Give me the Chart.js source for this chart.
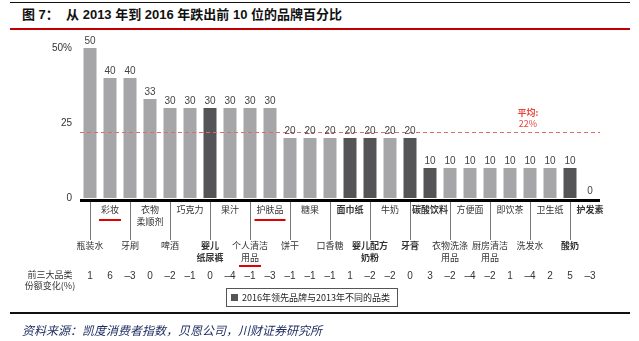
<!DOCTYPE html>
<html>
<head>
<meta charset="utf-8">
<script src="https://cdn.jsdelivr.net/npm/chart.js@4.4.1/dist/chart.umd.min.js"></script>
<style>
  html, body { margin: 0; padding: 0; background: #fff; }
  #page { position: relative; width: 639px; height: 341px; overflow: hidden;
          font-family: "Liberation Sans", "Noto Sans CJK SC", sans-serif; }
  #cv { position: absolute; left: 0; top: 0; }
  .rule { position: absolute; left: 10px; width: 620px; }
  #title { position: absolute; left: 22px; top: 7px; font-size: 13px; font-weight: bold;
           color: #111; white-space: pre; line-height: 16px; }
  #legend { position: absolute; left: 226px; top: 288px; width: 170px; height: 17px;
            border: 1px solid #555; font-size: 9px; color: #222; line-height: 17px;
            font-family: "Noto Sans CJK SC", sans-serif; }
  #legend i { position: absolute; left: 4px; top: 5px; width: 7px; height: 7px; background: #555557; }
  #legend span { position: absolute; left: 15px; top: 0; white-space: nowrap; }
  #source { position: absolute; left: 22px; top: 321px; font-size: 12px; font-style: italic;
            color: #1c2a5e; font-family: "Noto Sans CJK SC", sans-serif; white-space: nowrap; }
</style>
</head>
<body>
<div id="page">
  <div class="rule" style="top:2px;height:1px;background:#111;"></div>
  <div id="title">图 7：  从 2013 年到 2016 年跌出前 10 位的品牌百分比</div>
  <div class="rule" style="top:28px;height:2px;background:#c00000;"></div>
  <canvas id="cv" width="639" height="341"></canvas>
  <div id="legend"><i></i><span>2016年领先品牌与2013年不同的品类</span></div>
  <div class="rule" style="top:312px;height:2px;background:#111;"></div>
  <div id="source">资料来源：凯度消费者指数，贝恩公司，川财证券研究所</div>
</div>
<script>
"use strict";

// categories, two label rows alternate (even index = lower row)
const categories = [
  ["瓶装水"], ["彩妆"], ["牙刷"], ["衣物", "柔顺剂"], ["啤酒"], ["巧克力"],
  ["婴儿", "纸尿裤"], ["果汁"], ["个人清洁", "用品"], ["护肤品"], ["饼干"], ["糖果"],
  ["口香糖"], ["面巾纸"], ["婴儿配方", "奶粉"], ["牛奶"], ["牙膏"], ["碳酸饮料"],
  ["衣物洗涤", "用品"], ["方便面"], ["厨房清洁", "用品"], ["即饮茶"], ["洗发水"],
  ["卫生纸"], ["酸奶"], ["护发素"]
];
const dropShare  = [50, 40, 40, 33, 30, 30, 30, 30, 30, 30, 20, 20, 20, 20, 20, 20, 20, 10, 10, 10, 10, 10, 10, 10, 10, 0];
const newLeader  = [0, 0, 0, 0, 0, 0, 1, 0, 0, 0, 0, 0, 0, 1, 1, 0, 1, 1, 0, 0, 0, 0, 0, 0, 1, 1];
const top3Change = [1, 6, -3, 0, -2, -1, 0, -4, -1, -3, -1, -1, -1, 1, -2, -2, 0, 3, -2, -4, -2, 1, -4, 2, 5, -3];
const averageShare = 22;
const yTicks = [0, 25, 50];
const underlined = [1, 9, 8];   // 彩妆, 护肤品, 个人清洁用品

const LIGHT = "#a6a6a8", DARK = "#555557";
const CJK = '"Noto Sans CJK SC", sans-serif';
const LINE_H = 12;

function tickLines(i)
 {
   return i % 2 === 0 ? ["", "", ""].concat(categories[i]) : categories[i];
 }

const decorPlugin = {
  id: "decor",
  afterDatasetsDraw(chart) {
    const ctx = chart.ctx, area = chart.chartArea;
    const xs = chart.scales.x, ys = chart.scales.y;
    const meta = chart.getDatasetMeta(0);
    ctx.save();

    // average line
    const ya = Math.round(ys.getPixelForValue(averageShare)) + 0.5;
    ctx.strokeStyle = "#e06a6a";
    ctx.lineWidth = 1;
    ctx.setLineDash([4, 3]);
    ctx.beginPath(); ctx.moveTo(area.left, ya); ctx.lineTo(area.right, ya); ctx.stroke();
    ctx.setLineDash([]);
    ctx.fillStyle = "#e8463c";
    ctx.textAlign = "center"; ctx.textBaseline = "middle";
    const xa = xs.getPixelForValue(22) - 2;
    ctx.font = "bold 9px " + CJK;
    ctx.fillText("平均:", xa, ya - 20);
    ctx.font = "9px " + CJK;
    ctx.fillText(averageShare + "%", xa, ya - 9);

    // value labels
    ctx.fillStyle = "#444";
    ctx.font = "10px 'Liberation Sans', sans-serif";
    ctx.textBaseline = "alphabetic";
    meta.data.forEach((bar, i) => ctx.fillText(String(dropShare[i]), bar.x, bar.y - 4));

    // axis line
    ctx.fillStyle = "#000";
    ctx.fillRect(area.left, area.bottom + 1, area.right - area.left, 3);

    // leader lines to the lower label row
    ctx.strokeStyle = "#777";
    ctx.lineWidth = 1;
    for (let i = 0; i < categories.length; i += 2)
     {
       const x = Math.round(xs.getPixelForValue(i)) + 0.5;
       ctx.beginPath(); ctx.moveTo(x, area.bottom + 4); ctx.lineTo(x, area.bottom + 42); ctx.stroke();
     }

    // red underlines
    ctx.strokeStyle = "#e00000";
    ctx.lineWidth = 2;
    ctx.font = "9px " + CJK;
    underlined.forEach(i => {
      const lines = tickLines(i);
      const li = lines.length - 1;
      const w = ctx.measureText(lines[li]).width + 4;
      const x = xs.getPixelForValue(i);
      const y = area.bottom + 22 + li * 11.5;
      ctx.beginPath(); ctx.moveTo(x - w / 2, y); ctx.lineTo(x + w / 2, y); ctx.stroke();
    });

    // share change row
    ctx.fillStyle = "#333";
    ctx.textBaseline = "middle";
    ctx.font = "9px " + CJK;
    ctx.fillText("前三大品类", 50, 275);
    ctx.fillText("份额变化(%)", 50, 286);
    ctx.font = "10px 'Liberation Sans', sans-serif";
    top3Change.forEach((v, i) => {
      ctx.fillText(v < 0 ? "\u2013" + (-v) : String(v), xs.getPixelForValue(i), 276);
    });
    ctx.restore();
  }
};

new Chart(document.getElementById("cv"), {
  type: "bar",
  data: {
    labels: categories.map(c => c.join("")),
    datasets: [{
      data: dropShare,
      backgroundColor: newLeader.map(f => f ? DARK : LIGHT),
      categoryPercentage: 1,
      barPercentage: 0.65
    }]
  },
  options: {
    responsive: false,
    animation: false,
    devicePixelRatio: 1,
    layout: { padding: { left: 0, right: 39, top: 48, bottom: 0 } },
    plugins: { legend: { display: false }, tooltip: { enabled: false } },
    scales: {
      x: {
        grid: { display: false, drawTicks: false },
        border: { display: false },
        afterFit: s => { s.height = 143; },
        ticks: {
          autoSkip: false, maxRotation: 0, minRotation: 0, padding: 6,
          color: "#333",
          font: c => ({ family: CJK, size: 9, lineHeight: LINE_H / 9,
                        weight: newLeader[c.index] ? "bold" : "normal" }),
          callback: (v, i) => tickLines(i)
        }
      },
      y: {
        min: 0, max: 50,
        grid: { display: false, drawTicks: false },
        border: { display: false },
        afterFit: s => { s.width = 80; },
        afterBuildTicks: s => { s.ticks = yTicks.map(v => ({ value: v })); },
        ticks: {
          padding: 8, color: "#333",
          font: { family: "'Liberation Sans', sans-serif", size: 10 },
          callback: v => v === 50 ? "50%" : String(v)
        }
      }
    }
  },
  plugins: [decorPlugin]
});
</script>
</body>
</html>
